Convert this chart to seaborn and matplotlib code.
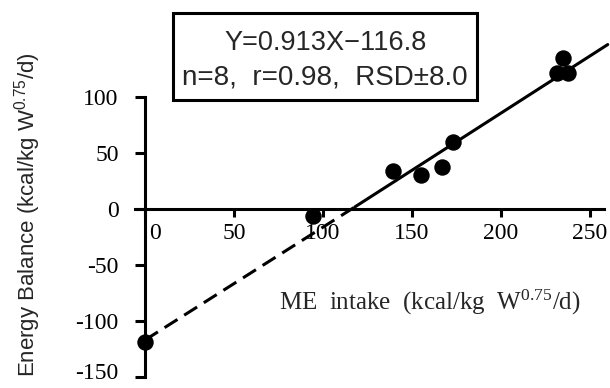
import matplotlib
matplotlib.use("Agg")
import matplotlib.pyplot as plt
import matplotlib.patches as mpatches
from matplotlib.transforms import ScaledTranslation
import seaborn as sns
import pandas as pd

# ---- data ----
me_intake = [0, 94.6, 139.5, 155, 166.7, 172.9, 231.5, 234.8, 237.6]
energy_balance = [-119, -6.5, 33.6, 30.7, 37.5, 59.8, 121.4, 134.8, 121.4]

dashed_x = [0, 118]
dashed_y = [-117, 2]
solid_x = [118, 260]
solid_y = [2, 147]

x_ticks = [0, 50, 100, 150, 200, 250]
y_ticks = [-150, -100, -50, 0, 50, 100]
y_tick_labels = ["-150", "-100", "-50", "0", "50", "100"]

eq_line1 = "Y=0.913X\u2212116.8"
eq_line2 = "n=8,  r=0.98,  RSD\u00b18.0"
x_label = r"ME  intake  (kcal/kg  W$\mathregular{^{0.75}}$/d)"
y_label = r"Energy Balance (kcal/kg W$\mathregular{^{0.75}}$/d)"

pts = pd.DataFrame({"x": me_intake, "y": energy_balance})

sns.set_style("white")
plt.rcParams["axes.unicode_minus"] = False
plt.rcParams["font.family"] = ["Liberation Serif", "DejaVu Serif"]

W, H = 610, 388
fig = plt.figure(figsize=(W / 100, H / 100), dpi=100)
ax = fig.add_axes([135 / W, 1 - 377 / H, 469 / W, (377 - 30) / H])

sns.lineplot(x=dashed_x, y=dashed_y, ax=ax, color="black", lw=2.2,
             linestyle=(0, (5, 2.6)), clip_on=False)
sns.lineplot(x=solid_x, y=solid_y, ax=ax, color="black", lw=2.2,
             clip_on=False)
sns.scatterplot(data=pts, x="x", y="y", ax=ax, color="black", s=140,
                edgecolor="black", linewidth=0, zorder=5, clip_on=False)

ax.set_xlim(-5.6, 257.9)
ax.set_ylim(-150, 160)

for s in ["top", "right"]:
    ax.spines[s].set_visible(False)
ax.spines["left"].set_position(("data", 0))
ax.spines["left"].set_bounds(-150, 100)
ax.spines["bottom"].set_position(("data", 0))
for s in ["left", "bottom"]:
    ax.spines[s].set_linewidth(2.2)
    ax.spines[s].set_color("black")

ax.set_xticks(x_ticks)
ax.set_xticklabels([str(v) for v in x_ticks])
ax.set_yticks(y_ticks)
ax.set_yticklabels(y_tick_labels)
ax.tick_params(axis="y", direction="out", length=7, width=2.2, pad=12,
               labelsize=17, colors="black", left=True)
ax.tick_params(axis="x", direction="out", length=6, width=2.2, pad=4,
               labelsize=17, colors="black", bottom=True)
lab0 = ax.get_xticklabels()[0]
lab0.set_horizontalalignment("left")
lab0.set_transform(lab0.get_transform() +
                   ScaledTranslation(3 / 72, 0, fig.dpi_scale_trans))
laby = ax.get_yticklabels()[0]
laby.set_transform(laby.get_transform() +
                   ScaledTranslation(0, 4 / 72, fig.dpi_scale_trans))
ax.set_xlabel("")
ax.set_ylabel("")

fig.text(430 / W, 1 - 302 / H, x_label, ha="center", va="center",
         fontsize=18, family=["Liberation Serif"])
fig.text(28 / W, 1 - 215 / H, y_label, ha="center", va="center",
         rotation=90, fontsize=16, family=["Liberation Sans"])

# equation box
fig.patches.append(mpatches.Rectangle((173 / W, 1 - 100 / H), (477 - 173) / W,
                                      (100 - 13) / H, transform=fig.transFigure,
                                      fill=False, edgecolor="black", lw=2.2))
fig.text(326 / W, 1 - 43 / H, eq_line1, ha="center", va="center",
         fontsize=19.5, family=["Liberation Sans", "DejaVu Sans"])
fig.text(325 / W, 1 - 78 / H, eq_line2, ha="center", va="center",
         fontsize=20, family=["Liberation Sans", "DejaVu Sans"])

fig.savefig("out.png", dpi=100)
